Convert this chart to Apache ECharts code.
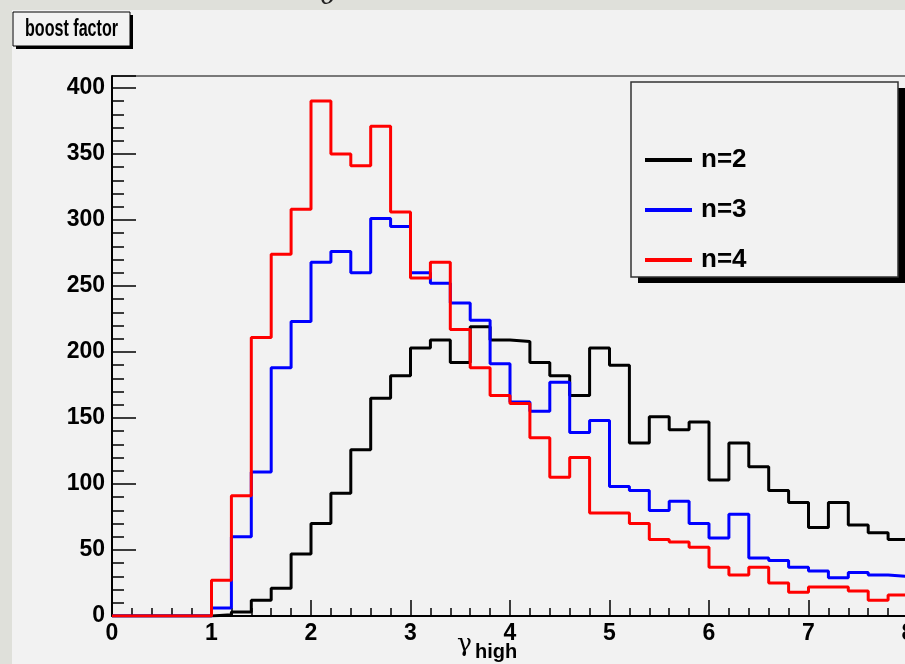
<!DOCTYPE html>
<html>
<head>
<meta charset="utf-8">
<script src="https://cdn.jsdelivr.net/npm/echarts@6/dist/echarts.min.js"></script>
<style>
html,body{margin:0;padding:0;background:#dfe0da;}
#chart{width:905px;height:664px;}
</style>
</head>
<body>
<div id="chart"></div>
<script>
// Bin lower edges (plus final upper edge) of the histogram, gamma_high
var binEdges = [0.0,0.2,0.4,0.6,0.8,1.0,1.2,1.4,1.6,1.8,2.0,2.2,2.4,2.6,2.8,3.0,3.2,3.4,3.6,3.8,
                4.0,4.2,4.4,4.6,4.8,5.0,5.2,5.4,5.6,5.8,6.0,6.2,6.4,6.6,6.8,7.0,7.2,7.4,7.6,7.8,8.0];
var seriesNames = ['n=2','n=3','n=4'];
var seriesColors = ['#000000','#0000ff','#ff0000'];
// bin contents (40 bins each)
var n2 = [0,0,0,0,0,1,3,12,21,47,70,93,126,165,182,203,209,192,219,209,
          208,192,182,167,203,190,131,151,141,147,103,131,113,95,86,67,86,69,63,58];
var n3 = [0,0,0,0,0,6,60,109,188,223,268,276,260,301,295,260,252,237,224,191,
          162,155,177,139,148,98,95,80,87,70,59,77,44,42,37,34,29,33,31,30];
var n4 = [0,0,0,0,0,27,91,211,274,308,390,350,341,371,306,256,268,217,188,167,
          161,135,105,120,78,78,70,58,56,52,37,31,37,25,18,22,22,19,12,16];
var xTickLabels = ['0','1','2','3','4','5','6','7','8'];
var yTickLabels = ['0','50','100','150','200','250','300','350','400'];
var xTitleMain = 'γ';
var xTitleSub = 'high';
var padTitle = 'boost factor';

function stepData(vals){
  return binEdges.map(function(e,i){ return [e, vals[Math.min(i, vals.length-1)]]; });
}
var allVals = [n2,n3,n4];

var chart = echarts.init(document.getElementById('chart'), null, {renderer:'canvas'});
var labelFont = {fontFamily:'Liberation Sans, Arial, sans-serif', fontWeight:'bold', fontSize:23, color:'#000'};

var option = {
  backgroundColor:'#dfe0da',
  animation:false,
  grid:{left:112, top:76, width:796, height:540, show:true, borderColor:'#000', borderWidth:1, backgroundColor:'transparent', containLabel:false, outerBoundsMode:'none'},
  xAxis:{
    type:'value', min:0, max:8, interval:1,
    axisLine:{show:true, onZero:false, lineStyle:{color:'#000', width:2}},
    axisTick:{show:true, inside:true, length:16, lineStyle:{color:'#000', width:1.5}},
    minorTick:{show:true, splitNumber:5, length:8, lineStyle:{color:'#000', width:1.5}},
    splitLine:{show:false},
    axisLabel:Object.assign({margin:6, formatter:function(v){ var i = xTickLabels.indexOf(String(v)); return i>=0 ? xTickLabels[i] : ''; }}, labelFont)
  },
  yAxis:[{
    type:'value', min:0, max:409, interval:50,
    axisLine:{show:true, lineStyle:{color:'#000', width:2}},
    axisTick:{show:true, inside:true, length:24, lineStyle:{color:'#000', width:1.5}},
    splitLine:{show:false},
    axisLabel:Object.assign({margin:7, formatter:function(v){ var i = yTickLabels.indexOf(String(v)); return i>=0 ? yTickLabels[i] : ''; }}, labelFont)
  },{
    type:'value', min:0, max:409, interval:10, position:'left',
    axisLine:{show:false},
    axisTick:{show:true, inside:true, length:12, lineStyle:{color:'#000', width:1.5}},
    splitLine:{show:false},
    axisLabel:{show:false}
  }],
  legend:{
    orient:'vertical', left:640, top:142, itemWidth:47, itemHeight:25, itemGap:24,
    data:seriesNames.map(function(n,i){ return {name:n, icon:'path://M0,11 L47,11 L47,15 L0,15 Z', itemStyle:{color:seriesColors[i]}}; }),
    textStyle:{fontFamily:'Liberation Sans, Arial, sans-serif', fontWeight:'bold', fontSize:26, color:'#000', lineHeight:25, padding:[0,0,0,4]},
    z:10
  },
  graphic:[
    {type:'rect', z:-5, silent:true, shape:{x:12, y:10, width:900, height:660}, style:{fill:'#f2f2f2'}},
    {type:'text', z:-6, silent:true, x:320, y:-17, style:{text:'θ', font:'italic 28px DejaVu Serif', fill:'#222'}},
    {type:'rect', z:1, silent:true, shape:{x:16, y:15, width:117, height:34}, style:{fill:'#000'}},
    {type:'rect', z:1, silent:true, shape:{x:13, y:12, width:117, height:34}, style:{fill:'#f2f2f2', stroke:'#000', lineWidth:1}},
    {type:'text', z:2, silent:true, x:71.5, y:30, scaleX:0.7, style:{text:padTitle, x:0, y:0, align:'center', verticalAlign:'middle', font:'bold 23px Liberation Sans', fill:'#000'}},
    {type:'rect', z:5, silent:true, shape:{x:638, y:88, width:267, height:195}, style:{fill:'#000'}},
    {type:'rect', z:5, silent:true, shape:{x:631, y:82, width:267, height:195}, style:{fill:'#f2f2f2', stroke:'#333', lineWidth:1.5}},
    {type:'text', z:2, silent:true, x:457, y:644, style:{text:xTitleMain, x:0, y:0, align:'left', verticalAlign:'middle', font:'25px DejaVu Serif', fill:'#000'}},
    {type:'text', z:2, silent:true, x:475, y:652, style:{text:xTitleSub, x:0, y:0, align:'left', verticalAlign:'middle', font:'bold 20px Liberation Sans', fill:'#000'}}
  ],
  series:seriesNames.map(function(n,i){
    return {
      name:n, type:'line', step:'end', symbol:'none', yAxisIndex:0,
      data:stepData(allVals[i]),
      lineStyle:{color:seriesColors[i], width:3},
      itemStyle:{color:seriesColors[i]},
      z:2+i
    };
  })
};
chart.setOption(option);
</script>
</body>
</html>
